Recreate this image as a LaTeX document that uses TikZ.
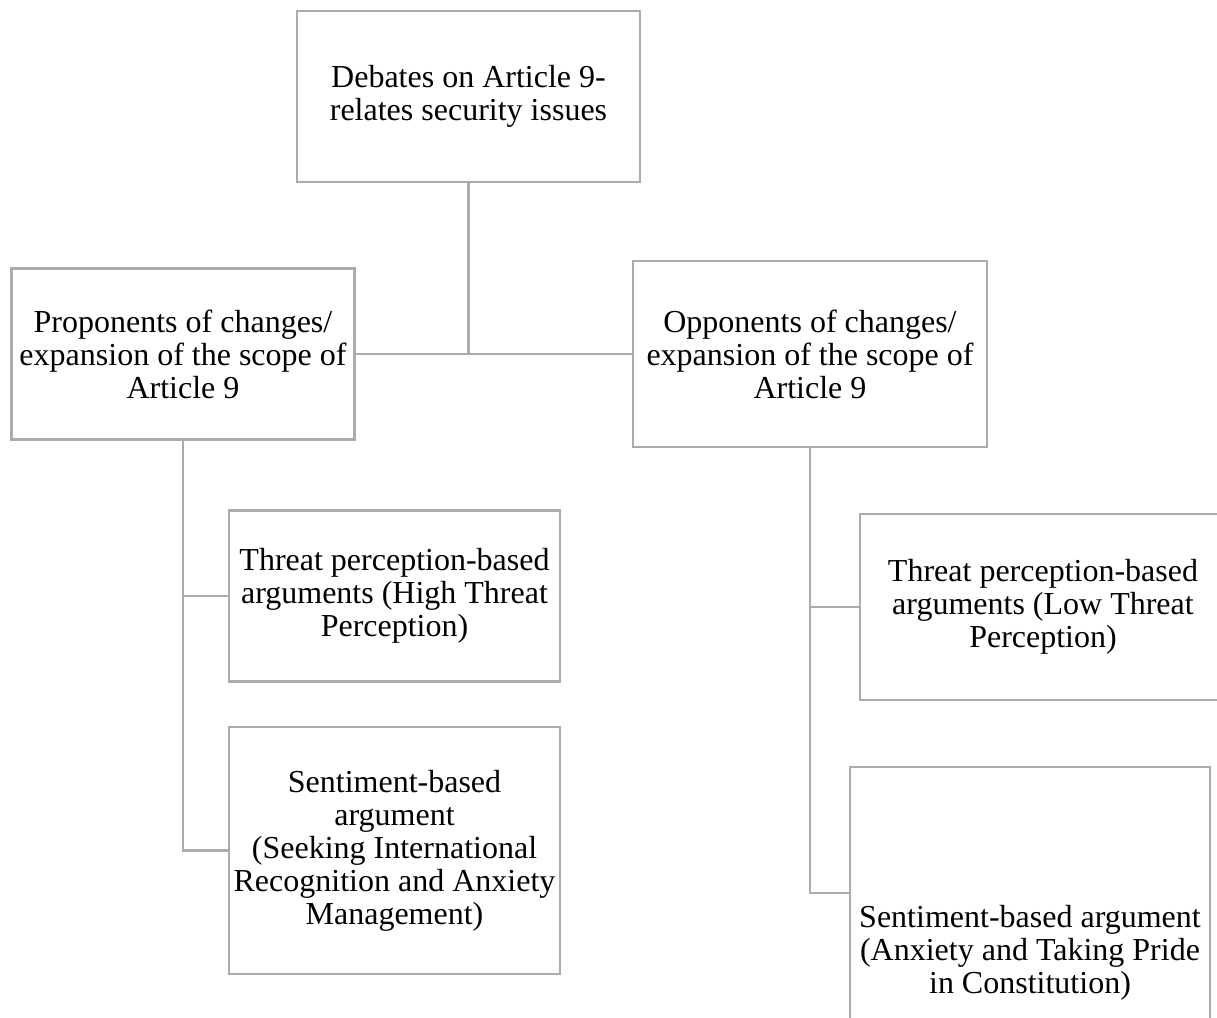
\documentclass[tikz,border=0pt]{standalone}
\usepackage{fontspec}
\setmainfont{Liberation Serif}
\usetikzlibrary{calc}
\definecolor{boxgray}{HTML}{ABABAB}

\begin{document}
\begin{tikzpicture}[x=1pt, y=-1pt,
    box/.style = {draw=boxgray, line width=2.6pt, rectangle, align=center,
                  inner sep=0pt, font=\fontsize{32}{33}\selectfont},
    link/.style = {draw=boxgray, line width=2.6pt}]
  \useasboundingbox (0,0) rectangle (1217,1017);

  \node[box, minimum width=343, minimum height=171] (debate) at (468.5,96.5)
    {Debates on Article 9-\\relates security issues};

  \node[box, minimum width=343, minimum height=171] (pro) at (183,354)
    {Proponents of changes/\\expansion of the scope of\\Article 9};
  \node[box, minimum width=354, minimum height=186] (opp) at (810,354)
    {Opponents of changes/\\expansion of the scope of\\Article 9};

  \node[box, minimum width=331, minimum height=171] (lthreat) at (394.5,596)
    {Threat perception-based\\arguments (High Threat\\Perception)};
  \node[box, minimum width=331, minimum height=247] (lsent) at (394.5,850.5)
    {Sentiment-based\\argument\\(Seeking International\\Recognition and Anxiety\\Management)};

  \node[box, minimum width=366, minimum height=186] (rthreat) at (1043,607)
    {Threat perception-based\\arguments (Low Threat\\Perception)};
  \node[box, minimum width=360, minimum height=372] (rsent) at (1030,953)
    {Sentiment-based argument\\(Anxiety and Taking Pride\\in Constitution)};

  % top level
  \draw[link] (debate.south) -- (debate.south |- pro.east);
  \draw[link] (pro.east) -- (opp.west);

  % left branch
  \draw[link] (pro.south) -- (pro.south |- lsent.west) -- (lsent.west);
  \draw[link] (pro.south |- lthreat.west) -- (lthreat.west);

  % right branch
  \coordinate (rjoin) at ($(rsent.north west)!0.34!(rsent.south west)$);
  \draw[link] (opp.south) -- (opp.south |- rjoin) -- (rjoin);
  \draw[link] (opp.south |- rthreat.west) -- (rthreat.west);
\end{tikzpicture}
\end{document}
